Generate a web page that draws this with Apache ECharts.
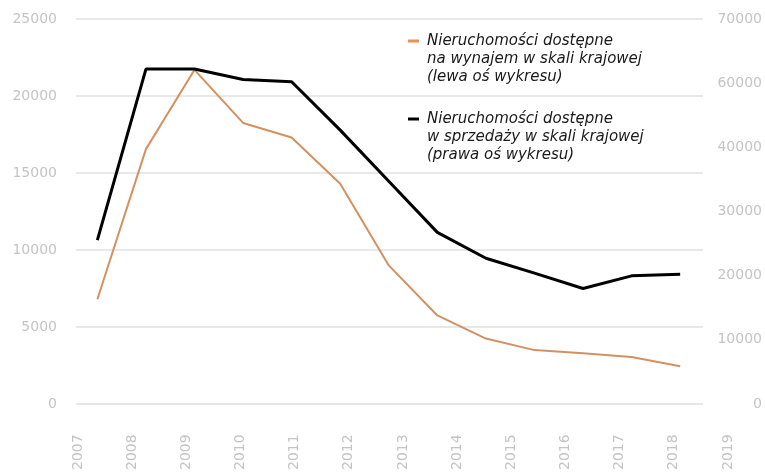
<!DOCTYPE html>
<html>
<head>
<meta charset="utf-8">
<script src="https://cdn.jsdelivr.net/npm/echarts@6/dist/echarts.min.js"></script>
<style>
  html, body { margin: 0; padding: 0; background: #fff; }
  #chart { width: 765px; height: 473px; }
</style>
</head>
<body>
<div id="chart"></div>
<script>
const years = ['2007', '2008', '2009', '2010', '2011', '2012', '2013', '2014', '2015', '2016', '2017', '2018', '2019']
const rentName = 'Nieruchomości dostępne\nna wynajem w skali krajowej\n(lewa oś wykresu)'
const saleName = 'Nieruchomości dostępne\nw sprzedaży w skali krajowej\n(prawa oś wykresu)'
// 13 observations, evenly spaced
const rentValues = [6800, 16550, 21700, 18250, 17300, 14300, 9000, 5750, 4250, 3500, 3300, 3050, 2450]
const saleValues = [29800, 60900, 60900, 59000, 58600, 49800, 40500, 31200, 26500, 23800, 21000, 23300, 23600]
// right axis labels as printed on the original (no 50000)
const rightTickLabels = ['0', '10000', '20000', '30000', '40000', '60000', '70000']

const toPoints = arr => arr.map((v, i) => [i, v])

const chart = echarts.init(document.getElementById('chart'))
const labelFont = { color: '#c4c4c4', fontSize: 14, fontFamily: 'DejaVu Sans' }

chart.setOption({
  animation: false,
  legend: {
    orient: 'vertical',
    left: 408,
    top: -4,
    padding: 0,
    itemGap: -12,
    itemWidth: 11,
    itemHeight: 3,
    icon: 'rect',
    selectedMode: false,
    // two empty lines first so the icon sits level with the first text line
    formatter: name => '\n\n' + name,
    textStyle: {
      color: '#1a1a1a', fontSize: 15, fontStyle: 'italic', fontFamily: 'DejaVu Sans',
      lineHeight: 18, padding: [0, 0, 0, 3]
    },
    data: [rentName, saleName]
  },
  grid: [
    { left: 76, right: 62, top: 19, bottom: 69 },
    { left: 78, right: 37, top: 0, bottom: 36 }
  ],
  xAxis: [
    { type: 'value', gridIndex: 0, min: -0.44, max: 12.47, show: false },
    {
      type: 'category', gridIndex: 1, data: years, boundaryGap: false,
      axisLine: { show: false }, axisTick: { show: false }, splitLine: { show: false },
      axisLabel: { ...labelFont, rotate: 90, margin: 0, interval: 0 }
    }
  ],
  yAxis: [
    {
      type: 'value', gridIndex: 0, min: 0, max: 25000, interval: 5000,
      axisLine: { show: false }, axisTick: { show: false },
      axisLabel: { ...labelFont, margin: 19, formatter: v => String(v) },
      splitLine: { lineStyle: { color: '#e0e0e0', width: 1.5 } }
    },
    {
      type: 'value', gridIndex: 0, position: 'right', min: 0, max: 70000, interval: 70000 / 6,
      axisLine: { show: false }, axisTick: { show: false }, splitLine: { show: false },
      axisLabel: { ...labelFont, align: 'right', margin: 59, formatter: (v, i) => rightTickLabels[i] }
    },
    { type: 'value', gridIndex: 1, min: 0, max: 1, show: false }
  ],
  series: [
    {
      name: rentName, type: 'line', xAxisIndex: 0, yAxisIndex: 0,
      data: toPoints(rentValues), symbol: 'none',
      lineStyle: { color: '#d4915f', width: 2 }, itemStyle: { color: '#e8905a' }
    },
    {
      name: saleName, type: 'line', xAxisIndex: 0, yAxisIndex: 1,
      data: toPoints(saleValues), symbol: 'none',
      lineStyle: { color: '#000', width: 3 }, itemStyle: { color: '#000' }
    }
  ]
})
</script>
</body>
</html>
